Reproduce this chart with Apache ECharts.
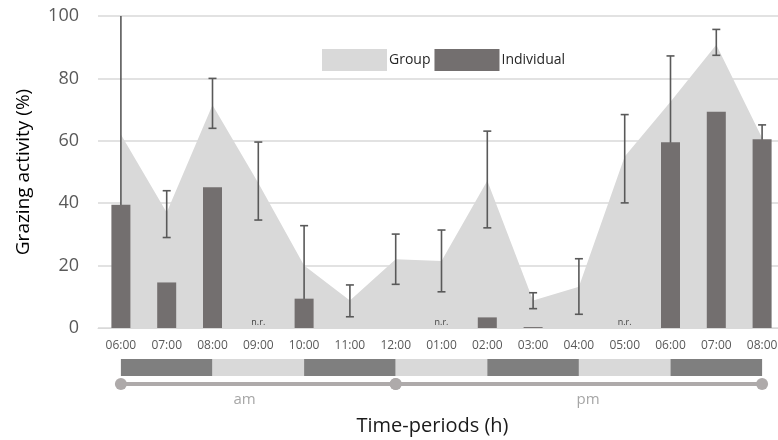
<!DOCTYPE html>
<html>
<head>
<meta charset="utf-8">
<script src="https://cdn.jsdelivr.net/npm/echarts@6/dist/echarts.min.js"></script>
<style>
html, body { margin: 0; padding: 0; background: #fff; }
#main { width: 778px; height: 440px; }
</style>
</head>
<body>
<div id="main"></div>
<script>
var hours = ['06:00', '07:00', '08:00', '09:00', '10:00', '11:00', '12:00', '01:00',
    '02:00', '03:00', '04:00', '05:00', '06:00', '07:00', '08:00'];
var groupValues = [62, 37, 71.5, 46.5, 20, 8.8, 22, 21.5, 47.2, 8.8, 13.2, 55, 72.5, 90.8, 60.9];
// 'nr' = not recorded
var individualValues = [39.5, 14.6, 45.1, 'nr', 9.4, 0, 0, 'nr', 3.4, 0.3, 0, 'nr', 59.5, 69.3, 60.5];
var errLow = [-21, 29, 64, 34.6, -14, 3.6, 14, 11.6, 32.1, 6.2, 4.4, 40.1, 32, 87.4, 55.9];
var errHigh = [101, 44, 80, 59.6, 32.8, 13.8, 30.1, 31.4, 63.1, 11.3, 22.2, 68.4, 87.2, 95.7, 65.1];
// shaded two-hour blocks under the axis: [from index, to index, shade]
var blocks = [[0, 2, 'dark'], [2, 4, 'light'], [4, 6, 'dark'], [6, 8, 'light'],
    [8, 10, 'dark'], [10, 12, 'light'], [12, 14, 'dark']];
// am / pm spans: [from index, to index, label, label position]
var dayParts = [[0, 6, 'am', 2.7], [6, 14, 'pm', 10.2]];

var FONT = '"Open Sans", sans-serif';
var BAR = '#736f6f';
var AREA = '#d9d9d9';

var chartDom = document.getElementById('main');
var myChart = echarts.init(chartDom, null, { renderer: 'canvas' });

function xAt(api, i) {
    var a = api.coord([0, 0])[0];
    var b = api.coord([1, 0])[0];
    return a + i * (b - a);
}

var errData = hours.map(function (h, i) { return [i, errLow[i], errHigh[i]]; });
var indData = individualValues.map(function (v) {
    if (v === 'nr') {
        return { value: 0, label: { show: true } };
    }
    return v;
});

var option = {
    animation: false,
    textStyle: { fontFamily: FONT },
    grid: { left: 98, right: -7, top: 16, bottom: 112, containLabel: false, outerBoundsMode: 'none' },
    legend: {
        data: ['Group', 'Individual'],
        left: 317,
        top: 44,
        icon: 'rect',
        itemWidth: 65,
        itemHeight: 22,
        itemGap: 4,
        textStyle: { fontSize: 14, color: '#262626', fontFamily: FONT, padding: [0, 0, 0, -3] }
    },
    xAxis: {
        type: 'category',
        data: hours,
        axisLine: { lineStyle: { color: '#d9d9d9', width: 1 } },
        axisTick: { show: false },
        axisLabel: { fontSize: 12, color: '#595959', margin: 12, interval: 0 },
        name: 'Time-periods (h)',
        nameLocation: 'middle',
        nameGap: 88,
        nameTextStyle: { fontSize: 20, color: '#1a1a1a', padding: [0, 18, 0, 0] }
    },
    yAxis: {
        type: 'value',
        min: 0,
        max: 100,
        interval: 20,
        axisLine: { show: false },
        axisTick: { show: false },
        axisLabel: { fontSize: 18, color: '#595959', margin: 19 },
        splitLine: { lineStyle: { color: '#d9d9d9', width: 1.5 } },
        name: 'Grazing activity (%)',
        nameLocation: 'middle',
        nameGap: 65,
        nameTextStyle: { fontSize: 19, color: '#000' }
    },
    series: [
        {
            name: 'Group',
            type: 'line',
            data: groupValues,
            symbol: 'none',
            lineStyle: { width: 0 },
            itemStyle: { color: AREA },
            areaStyle: { color: AREA, opacity: 1 },
            z: 1
        },
        {
            name: 'errors',
            type: 'custom',
            data: errData,
            z: 2,
            renderItem: function (params, api) {
                var i = api.value(0);
                var lo = api.value(1);
                var hi = api.value(2);
                var x = api.coord([i, 0])[0];
                var yLo = api.coord([i, Math.max(lo, 0)])[1];
                var yHi = api.coord([i, Math.min(hi, 100)])[1];
                var st = { stroke: '#595959', lineWidth: 1.6 };
                var kids = [{ type: 'line', shape: { x1: x, y1: yLo, x2: x, y2: yHi }, style: st }];
                if (hi <= 100) {
                    kids.push({ type: 'line', shape: { x1: x - 4, y1: yHi, x2: x + 4, y2: yHi }, style: st });
                }
                if (lo >= 0) {
                    kids.push({ type: 'line', shape: { x1: x - 4, y1: yLo, x2: x + 4, y2: yLo }, style: st });
                }
                return { type: 'group', children: kids };
            }
        },
        {
            name: 'Individual',
            type: 'bar',
            data: indData,
            barWidth: 19,
            itemStyle: { color: BAR },
            label: {
                show: false,
                position: 'top',
                distance: 1,
                formatter: 'n.r.',
                fontSize: 9,
                color: '#404040'
            },
            z: 3
        },
        {
            name: 'blocks',
            type: 'custom',
            data: blocks,
            clip: false,
            silent: true,
            renderItem: function (params, api) {
                var b = blocks[params.dataIndex];
                var x1 = xAt(api, b[0]);
                var x2 = xAt(api, b[1]);
                var y0 = api.coord([0, 0])[1];
                return {
                    type: 'rect',
                    shape: { x: x1, y: y0 + 31, width: x2 - x1, height: 17 },
                    style: { fill: b[2] === 'dark' ? '#7f7f7f' : '#d9d9d9' }
                };
            }
        },
        {
            name: 'dayparts',
            type: 'custom',
            data: dayParts,
            clip: false,
            silent: true,
            renderItem: function (params, api) {
                var d = dayParts[params.dataIndex];
                var x1 = xAt(api, d[0]);
                var x2 = xAt(api, d[1]);
                var xl = xAt(api, d[3]);
                var y = api.coord([0, 0])[1] + 56;
                var col = '#aeaaaa';
                return {
                    type: 'group',
                    children: [
                        { type: 'line', shape: { x1: x1, y1: y, x2: x2, y2: y }, style: { stroke: col, lineWidth: 4 } },
                        { type: 'circle', shape: { cx: x1, cy: y, r: 6 }, style: { fill: col } },
                        { type: 'circle', shape: { cx: x2, cy: y, r: 6 }, style: { fill: col } },
                        {
                            type: 'text',
                            style: {
                                x: xl, y: y + 16, text: d[2], fill: '#a6a6a6',
                                font: '15px ' + FONT, textAlign: 'center', textVerticalAlign: 'middle'
                            }
                        }
                    ]
                };
            }
        }
    ]
};

option && myChart.setOption(option);
</script>
</body>
</html>
